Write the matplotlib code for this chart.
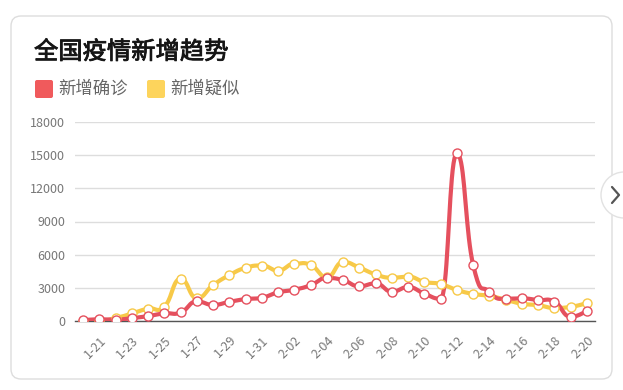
import numpy as np
import matplotlib.pyplot as plt
import matplotlib.patheffects as pe
from matplotlib.patches import FancyBboxPatch, Circle

plt.rcParams['font.family'] = ['Noto Sans CJK SC', 'DejaVu Sans']

# 日期 1-20 ~ 2-20
dates = ['1-20', '1-21', '1-22', '1-23', '1-24', '1-25', '1-26', '1-27', '1-28', '1-29', '1-30', '1-31',
         '2-01', '2-02', '2-03', '2-04', '2-05', '2-06', '2-07', '2-08', '2-09', '2-10', '2-11', '2-12',
         '2-13', '2-14', '2-15', '2-16', '2-17', '2-18', '2-19', '2-20']
# 新增确诊
confirm = [77, 149, 131, 259, 444, 688, 769, 1771, 1459, 1737, 1982, 2102,
           2590, 2829, 3235, 3887, 3694, 3143, 3399, 2656, 3062, 2478, 2015, 15152,
           5090, 2641, 2009, 2048, 1886, 1749, 394, 889]
# 新增疑似
suspect = [27, 26, 257, 680, 1118, 1309, 3806, 2077, 3248, 4148, 4812, 5019,
           4562, 5173, 5072, 3971, 5328, 4833, 4214, 3916, 4008, 3536, 3342, 2807,
           2450, 2277, 1918, 1563, 1432, 1185, 1277, 1614]
yticks = [0, 3000, 6000, 9000, 12000, 15000, 18000]

RED = '#e5505e'
YEL = '#f7c948'


def smooth_line(ys, k=0.25, n=20):
    # 贝塞尔平滑，极值点处切线水平
    ys = np.asarray(ys, float)
    m = len(ys)
    tx, ty = np.zeros(m), np.zeros(m)
    for i in range(m):
        p = max(i - 1, 0)
        q = min(i + 1, m - 1)
        tx[i] = (q - p) * k
        ty[i] = (ys[q] - ys[p]) * k
        if 0 < i < m - 1 and (ys[i] - ys[p]) * (ys[q] - ys[i]) <= 0:
            ty[i] = 0
    xs_out, ys_out = [], []
    t = np.linspace(0, 1, n)
    for i in range(m - 1):
        x0, y0 = i, ys[i]
        x3, y3 = i + 1, ys[i + 1]
        x1, y1 = x0 + tx[i], y0 + ty[i]
        x2, y2 = x3 - tx[i + 1], y3 - ty[i + 1]
        bx = (1-t)**3*x0 + 3*(1-t)**2*t*x1 + 3*(1-t)*t**2*x2 + t**3*x3
        by = (1-t)**3*y0 + 3*(1-t)**2*t*y1 + 3*(1-t)*t**2*y2 + t**3*y3
        xs_out.extend(bx)
        ys_out.extend(by)
    return xs_out, ys_out


W, H = 623, 390
fig = plt.figure(figsize=(W / 100, H / 100), dpi=100)

# 背景卡片
bg = fig.add_axes([0, 0, 1, 1])
bg.set_xlim(0, W)
bg.set_ylim(H, 0)
bg.axis('off')
bg.add_patch(FancyBboxPatch((11, 16), 601, 363, boxstyle='round,pad=0,rounding_size=10',
                            fc='white', ec='#dddddd', lw=1))
bg.text(34, 52, '全国疫情新增趋势', fontsize=17.5, color='#151515', va='center', ha='left',
        path_effects=[pe.withStroke(linewidth=0.6, foreground='#151515')])
bg.add_patch(FancyBboxPatch((35, 80), 18, 18, boxstyle='round,pad=0,rounding_size=2',
                            fc='#f05a5c', ec='none'))
bg.text(58, 89, '新增确诊', fontsize=12.5, color='#666666', va='center', ha='left')
bg.add_patch(FancyBboxPatch((147, 80), 18, 18, boxstyle='round,pad=0,rounding_size=2',
                            fc='#fdd45c', ec='none'))
bg.text(170, 89, '新增疑似', fontsize=12.5, color='#666666', va='center', ha='left')

# 右侧箭头按钮
bg.add_patch(Circle((624, 195), 23, fc='white', ec='#e2e2e2', lw=1, zorder=5))
bg.plot([612, 619, 612], [187, 195, 203], color='#555555', lw=1.6, zorder=6,
        solid_capstyle='round')

ax = fig.add_axes([75 / W, (H - 321) / H, 520 / W, 199 / H])
ax.set_facecolor('none')
x = np.arange(len(dates))
for ys, c in [(suspect, YEL), (confirm, RED)]:
    sx, sy = smooth_line(ys)
    ax.plot(sx, sy, color=c, lw=3, solid_capstyle='round', zorder=3)
    ax.plot(x, ys, 'o', ms=6.5, mfc='white', mec=c, mew=1, zorder=4)

ax.set_xlim(-0.5, len(dates) - 0.5)
ax.set_ylim(0, 18000)
ax.set_yticks(yticks)
ax.set_yticklabels([str(v) for v in yticks])
ax.grid(axis='y', color='#dddddd', lw=1)
ax.set_axisbelow(True)
ax.set_xticks(x[1::2])
ax.set_xticklabels(dates[1::2], rotation=45, ha='right', va='top', rotation_mode='anchor')
ax.tick_params(axis='both', length=0, colors='#777777', labelsize=9)
ax.tick_params(axis='y', pad=7)
ax.tick_params(axis='x', pad=9)
for s in ['top', 'right', 'left']:
    ax.spines[s].set_visible(False)
ax.spines['bottom'].set_color('#555555')
ax.spines['bottom'].set_linewidth(1)
ax.spines['bottom'].set_zorder(2)

fig.savefig('out.png', dpi=100)
